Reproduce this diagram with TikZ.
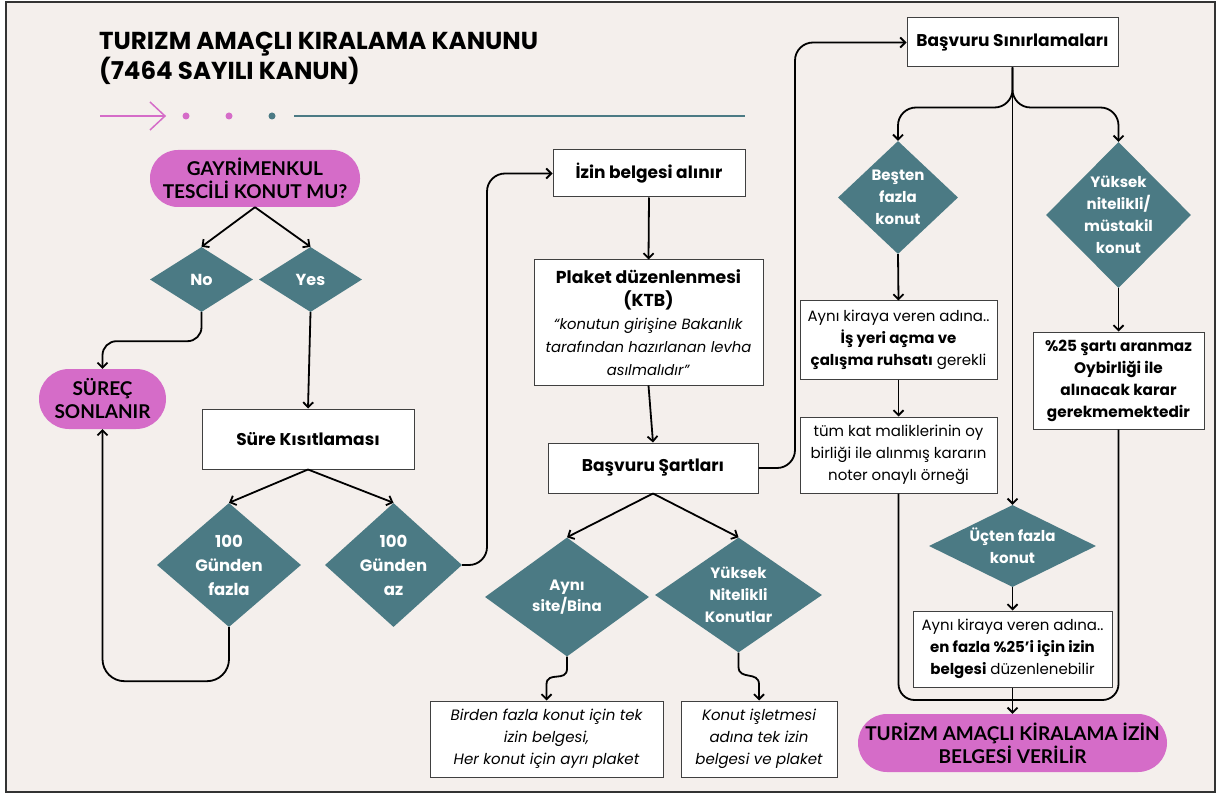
\documentclass[tikz,border=0pt]{standalone}
\usepackage{fontspec}
\setmainfont{Poppins}
\newfontfamily\pillfont{Lato}
\usetikzlibrary{arrows.meta,shapes.geometric,calc}
\definecolor{bgc}{HTML}{F4EFEC}
\definecolor{tealc}{HTML}{4B7A84}
\definecolor{pinkc}{HTML}{D56CC8}
\definecolor{framec}{HTML}{333333}
\tikzset{
  box/.style={draw=black!75, line width=1pt, fill=white, align=center, inner sep=2pt, text=black},
  dia/.style={diamond, fill=tealc, inner sep=0pt},
  diat/.style={text=white, font=\bfseries\fontsize{15}{22}\selectfont, align=center},
  pill/.style={fill=pinkc, rounded corners=28pt, align=center, font=\pillfont\bfseries\fontsize{19}{23}\selectfont},
  ln/.style={line width=1.8pt, black},
  arr/.style={ln, -{Straight Barb[length=5pt,width=10pt]}},
  bodyt/.style={font=\fontsize{15}{22}\selectfont},
  boldt/.style={font=\bfseries\fontsize{17}{22}\selectfont},
}
\begin{document}
\begin{tikzpicture}[x=1pt,y=-1pt]
\useasboundingbox (0,0) rectangle (1218,794);
\fill[white] (0,0) rectangle (1218,794);
\draw[fill=bgc, draw=framec, line width=2pt] (6,2) rectangle (1215,792);

% title
\node[anchor=west, font=\bfseries\fontsize{24.5}{27}\selectfont, align=left, inner sep=0pt] (title) at (99,58) {TURIZM AMAÇLI KIRALAMA KANUNU\\(7464 SAYILI KANUN)};
% decorative line
\coordinate (da) at (100,116);
\coordinate (db) at (165,116);
\draw[pinkc, line width=1.5pt] (da) -- (db);
\draw[pinkc, line width=1.5pt] (150,102) -- (db) -- (150,130);
\fill[pinkc] (186,116) circle (3.5);
\fill[pinkc] (229,116) circle (3.5);
\fill[tealc] (272,116) circle (3.5);
\draw[tealc, line width=2pt] (294,116) -- (745,116);

% left column
\node[pill, minimum width=210, minimum height=57] (gay) at (255,178.5) {GAYRİMENKUL\\TESCİLİ KONUT MU?};
\node[dia, minimum width=103, minimum height=65] (no) at (201.5,279.5) {};
\node[diat, font=\bfseries\fontsize{16}{22}\selectfont] (not) at (no) {No};
\node[dia, minimum width=103, minimum height=65] (yes) at (310.5,279.5) {};
\node[diat, font=\bfseries\fontsize{16}{22}\selectfont] (yest) at (yes) {Yes};
\node[pill, minimum width=127, minimum height=60, rounded corners=30pt] (sur) at (102.5,399) {SÜREÇ\\SONLANIR};
\node[box, minimum width=212, minimum height=60, boldt] (sure) at (308,439) {Süre Kısıtlaması};
\node[dia, minimum width=144, minimum height=124] (f100) at (229,565) {};
\node[diat, font=\bfseries\fontsize{16.5}{24}\selectfont] (f100t) at (f100) {100\\Günden\\fazla};
\node[dia, minimum width=137, minimum height=124] (a100) at (393.5,565) {};
\node[diat, font=\bfseries\fontsize{16.5}{24}\selectfont] (a100t) at (a100) {100\\Günden\\az};

% middle column
\node[box, minimum width=192, minimum height=47, boldt] (izin) at (649,173.5) {İzin belgesi alınır};
\node[box, minimum width=229, minimum height=125, font=\fontsize{14.8}{23}\selectfont] (plaket) at (648.5,322.5)
  {{\bfseries\fontsize{17.3}{23}\selectfont Plaket düzenlenmesi}\\{\bfseries\fontsize{17.3}{23}\selectfont (KTB)}\\\textit{“konutun girişine Bakanlık}\\\textit{tarafından hazırlanan levha}\\\textit{asılmalıdır”}};
\node[box, minimum width=210, minimum height=50, boldt] (bsart) at (653,468) {Başvuru Şartları};
\node[dia, minimum width=164, minimum height=119] (ayni) at (567,597) {};
\node[diat, font=\bfseries\fontsize{15}{21}\selectfont] (aynit) at (ayni) {Aynı\\site/Bina};
\node[dia, minimum width=167, minimum height=115] (yuk) at (738.5,595) {};
\node[diat, font=\bfseries\fontsize{15}{22}\selectfont] (yukt) at (yuk) {Yüksek\\Nitelikli\\Konutlar};
\node[box, minimum width=233, minimum height=76, font=\itshape\fontsize{15}{22}\selectfont] (birden) at (546.5,739) {Birden fazla konut için tek\\izin belgesi,\\Her konut için ayrı plaket};
\node[box, minimum width=156, minimum height=76, font=\itshape\fontsize{15}{22}\selectfont] (konutb) at (759,739) {Konut işletmesi\\adına tek izin\\belgesi ve plaket};

% right column
\node[box, minimum width=211, minimum height=49, boldt] (bsin) at (1012.5,42.5) {Başvuru Sınırlamaları};
\node[dia, minimum width=120, minimum height=113] (besten) at (898,197.5) {};
\node[diat] (bestent) at (besten) {Beşten\\fazla\\konut};
\node[dia, minimum width=145, minimum height=146] (yuknit) at (1118.5,215) {};
\node[diat] (yuknitt) at (yuknit) {Yüksek\\nitelikli/\\müstakil\\konut};
\node[box, minimum width=197, minimum height=78, bodyt] (ayni1) at (898.5,340) {Aynı kiraya veren adına..\\\textbf{İş yeri açma ve}\\\textbf{çalışma ruhsatı} gerekli};
\node[box, minimum width=197, minimum height=76, bodyt] (tum) at (898.5,455) {tüm kat maliklerinin oy\\birliği ile alınmış kararın\\noter onaylı örneği};
\node[box, minimum width=171, minimum height=97, font=\bfseries\fontsize{15.3}{22}\selectfont] (pct) at (1118.5,380.5) {\%25 şartı aranmaz\\Oybirliği ile\\alınacak karar\\gerekmemektedir};
\node[dia, minimum width=167, minimum height=82] (ucten) at (1012.5,546) {};
\node[diat] (uctent) at (ucten) {Üçten fazla\\konut};
\node[box, minimum width=199, minimum height=76, bodyt] (box2) at (1012.5,649) {Aynı kiraya veren adına..\\\textbf{en fazla \%25'i için izin}\\\textbf{belgesi} düzenlenebilir};
\node[pill, minimum width=309, minimum height=58, rounded corners=29pt] (final) at (1012.5,743) {TURİZM AMAÇLI KİRALAMA İZİN\\BELGESİ VERİLİR};

% connectors left
\draw[arr] (gay.south) -- (no.north);
\draw[arr] (gay.south) -- (yes.north);
\draw[arr, rounded corners=14pt] (no.south) -- ++(0,29) -| (sur.north);
\draw[arr] (yes.south) -- (sure.north);
\draw[arr] (sure.south) -- (f100.north);
\draw[arr] (sure.south) -- (a100.north);
\draw[arr, rounded corners=22pt] (f100.south) -- ++(0,54) -| (sur.south);
\coordinate (c1) at (487,400);
\draw[arr, rounded corners=18pt] (a100.east) -| (c1) |- (izin.west);

% connectors middle
\draw[arr] (izin.south) -- (plaket.north);
\draw[arr] (plaket.south) -- (bsart.north);
\coordinate (c2) at (795,300);
\draw[arr, rounded corners=18pt] (bsart.east) -| (c2) |- (bsin.west);
\draw[arr] (bsart.south) -- (ayni.north);
\draw[arr] (bsart.south) -- (yuk.north);
\draw[arr] (ayni.south) -- ++(0,12) .. controls +(0,14) and +(0,-14) .. ($(birden.north)+(0,-16)$) -- (birden.north);
\draw[arr] (yuk.south) -- ++(0,14) .. controls +(0,14) and +(0,-14) .. ($(konutb.north)+(0,-16)$) -- (konutb.north);

% connectors right
\draw[arr, rounded corners=18pt] (bsin.south) -- ++(0,40) -| (besten.north);
\draw[arr, rounded corners=18pt] (bsin.south) -- ++(0,40) -| (yuknit.north);
\draw[arr] (bsin.south) -- (ucten.north);
\draw[arr] (besten.south) -- (ayni1.north);
\draw[arr] (ayni1.south) -- (tum.north);
\draw[arr] (yuknit.south) -- (pct.north);
\draw[arr] (ucten.south) -- (box2.north);
\coordinate (m) at (1012.5,700);
\draw[ln, rounded corners=16pt] (tum.south) |- (m);
\draw[ln, rounded corners=16pt] (pct.south) |- (m);
\draw[arr] (box2.south) -- (final.north);
\end{tikzpicture}
\end{document}
